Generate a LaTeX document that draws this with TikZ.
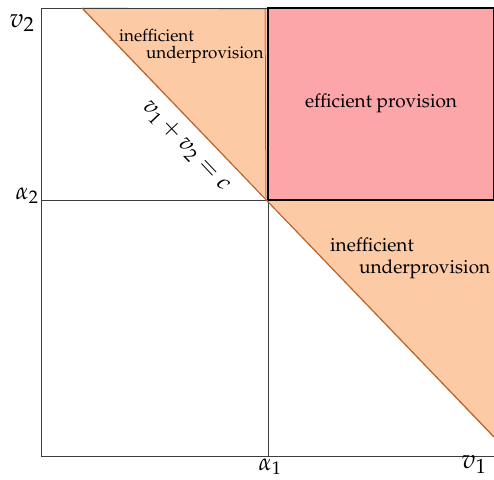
\documentclass[tikz,border=0pt]{standalone}
\usepackage[T1]{fontenc}
\usepackage{mathpazo}
\definecolor{orfill}{RGB}{253,202,166}
\definecolor{rdfill}{RGB}{252,166,170}
\definecolor{diag}{RGB}{190,100,40}
\definecolor{axisgray}{RGB}{60,60,60}
\tikzset{
  axisline/.style={draw=axisgray, line width=0.8pt},
  region/.style={align=left, inner sep=0pt},
  biglabel/.style={font=\fontsize{27}{29}\selectfont, inner sep=0pt},
  midlabel/.style={font=\fontsize{24}{26}\selectfont, inner sep=0pt},
}
\begin{document}
\begin{tikzpicture}[x=1pt,y=-1pt]
\useasboundingbox (0,0) rectangle (494,479);
% corners
\coordinate (TL) at (41,8);
\coordinate (O) at (41,456);
\coordinate (BR) at (494,456);
\coordinate (TR) at (494,8);
\coordinate (A1top) at (268,8);
\coordinate (A1) at (268,456);
\coordinate (A2) at (41,200);
\coordinate (A2r) at (494,200);
\coordinate (C) at (268,200);
\coordinate (D1) at (82,8);
\coordinate (D2) at (494,437);
% regions
\fill[orfill] (D1) -- (A1top) -- (C) -- cycle;
\draw[red!70!black, line width=0.5pt] (D1) -- (265,9) -- (266,198);
\fill[rdfill] (A1top) rectangle (A2r);
\fill[orfill] (C) -- (A2r) -- (D2) -- cycle;
% axes and grid
\draw[axisline] (TR) -- (TL) -- (O) -- (BR);
\draw[axisline] (A1top) -- (A1);
\draw[axisline] (A2) -- (A2r);
\draw[black, line width=1.3pt] (A1top) rectangle (A2r);
\draw[diag, line width=1.3pt] (D1) -- (D2);
% labels
\node[biglabel] (v2) at (22,23) {$v_2$};
\node[midlabel] (a2) at (27,196) {$\alpha_2$};
\node[midlabel] (a1) at (270,467) {$\alpha_1$};
\node[biglabel] (v1) at (474,465) {$v_1$};
\node[inner sep=0pt, font=\fontsize{24}{26}\selectfont, rotate=-46.5] (eq) at (186,146) {$v_1+v_2=c$};
\node[font=\fontsize{19}{21}\selectfont, inner sep=0pt] (eff) at (381,103) {efficient provision};
\node[region, font=\fontsize{17}{19}\selectfont, anchor=west] (ineff1a) at (119,36) {inefficient};
\node[region, font=\fontsize{17}{19}\selectfont, anchor=west] (ineff1b) at (146,55) {underprovision};
\node[region, font=\fontsize{19}{21}\selectfont, anchor=west] (ineff2a) at (330,245) {inefficient};
\node[region, font=\fontsize{19}{21}\selectfont, anchor=west] (ineff2b) at (359,269) {underprovision};
\end{tikzpicture}
\end{document}
